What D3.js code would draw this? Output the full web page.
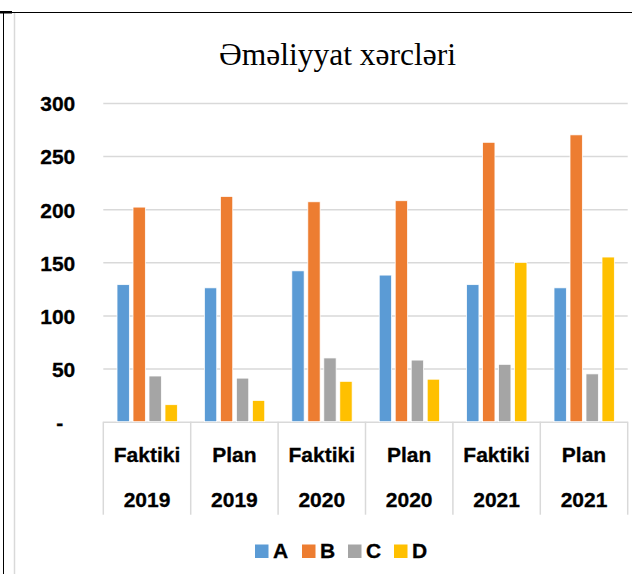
<!DOCTYPE html>
<html>
<head>
<meta charset="utf-8">
<script src="https://cdn.jsdelivr.net/npm/d3@7"></script>
<style>
  body { margin: 0; background: #fff; }
  svg { display: block; }
  .tick text { font-family: "Liberation Sans", Arial, sans-serif; font-weight: bold; font-size: 21px; fill: #000; stroke: #000; stroke-width: 0.3px; }
  .lab { font-family: "Liberation Sans", Arial, sans-serif; font-weight: bold; font-size: 21px; fill: #000; stroke: #000; stroke-width: 0.3px; }
</style>
</head>
<body>
<div id="chart"></div>
<script>
var categories = ["Faktiki 2019", "Plan 2019", "Faktiki 2020", "Plan 2020", "Faktiki 2021", "Plan 2021"]
var seriesNames = ["A", "B", "C", "D"]
var valuesA = [129, 126, 142, 138, 129, 126]
var valuesB = [202, 212, 207, 208, 263, 270]
var valuesC = [43, 41, 60, 58, 54, 45]
var valuesD = [16, 20, 38, 40, 150, 155]
var yTicks = [0, 50, 100, 150, 200, 250, 300]
var colors = ["#5B9BD5", "#ED7D31", "#A5A5A5", "#FFC000"]

var W = 632, H = 574
var margin = { top: 103, left: 103.3, right: 4.3, bottom: 152.3 }
var width = W - margin.left - margin.right,
    height = H - margin.top - margin.bottom

var svg = d3.select("#chart")
    .append("svg")
    .attr("width", W)
    .attr("height", H)

// outer frame
svg.append("line").attr("x1", 0).attr("x2", W).attr("y1", 12.5).attr("y2", 12.5)
    .attr("stroke", "#000").attr("stroke-width", 1)
svg.append("rect").attr("x", 0).attr("y", 11).attr("width", 12).attr("height", 2.5).attr("fill", "#000")
svg.append("line").attr("x1", 3.5).attr("x2", 3.5).attr("y1", 12).attr("y2", H)
    .attr("stroke", "#000").attr("stroke-width", 1)
svg.append("line").attr("x1", 14.5).attr("x2", 14.5).attr("y1", 13).attr("y2", H)
    .attr("stroke", "#d9d9d9").attr("stroke-width", 1.5)

svg.append("text")
    .attr("x", 337.5)
    .attr("y", 65)
    .attr("text-anchor", "middle")
    .attr("font-family", "'Liberation Serif', 'Times New Roman', serif")
    .attr("font-size", "31.5px")
    .attr("fill", "#000")
    .text("Əməliyyat xərcləri")

var g = svg.append("g")
    .attr("transform", "translate(" + margin.left + "," + margin.top + ")")

var data = categories.map(function (c, i) {
    return { cat: c, vals: [valuesA[i], valuesB[i], valuesC[i], valuesD[i]] }
})

var x0 = d3.scaleBand().domain(categories).range([0, width]).padding(0)
var bw = x0.bandwidth()
var x1 = d3.scaleBand().domain(seriesNames)
    .range([bw * 0.157, bw * 0.847])
    .paddingInner(0.23).paddingOuter(0)
var y = d3.scaleLinear().domain([0, 300]).range([height, 0])

// gridlines
g.append("g")
    .call(d3.axisLeft(y).tickValues(yTicks).tickSize(-width).tickFormat(""))
    .call(function (a) {
        a.select(".domain").remove()
        a.selectAll(".tick line").attr("stroke", "#d9d9d9").attr("stroke-width", 1.5)
    })

// y labels
g.append("g")
    .call(d3.axisLeft(y).tickValues(yTicks).tickSize(0).tickPadding(28)
        .tickFormat(function (d) { return d === 0 ? "-" : d }))
    .call(function (a) {
        a.select(".domain").remove()
        a.selectAll(".tick text").attr("dy", "0.37em")
        a.selectAll(".tick").filter(function (d) { return d === 0 })
            .select("text").attr("x", -40)
    })

// bars
var groups = g.selectAll(".grp")
    .data(data)
    .enter()
    .append("g")
    .attr("transform", function (d) { return "translate(" + x0(d.cat) + ",0)" })

groups.selectAll("rect")
    .data(function (d) { return d.vals.map(function (v, i) { return { key: seriesNames[i], v: v, i: i } }) })
    .enter()
    .append("rect")
    .attr("x", function (d) { return x1(d.key) })
    .attr("y", function (d) { return y(d.v) })
    .attr("width", x1.bandwidth())
    .attr("height", function (d) { return height - y(d.v) })
    .attr("fill", function (d) { return colors[d.i] })
    .attr("stroke", "#fff")
    .attr("stroke-width", 0.75)

// category axis: separators and two-line labels
var sepBottom = 93
var xa = g.append("g").attr("transform", "translate(0," + height + ")")
xa.selectAll(".sep")
    .data(categories.concat(["end"]))
    .enter()
    .append("line")
    .attr("x1", function (d, i) { return i * bw })
    .attr("x2", function (d, i) { return i * bw })
    .attr("y1", 0)
    .attr("y2", sepBottom)
    .attr("stroke", "#d9d9d9")
    .attr("stroke-width", 1.5)

xa.selectAll(".lbl")
    .data(categories)
    .enter()
    .append("text")
    .attr("class", "lab")
    .attr("x", function (d) { return x0(d) + bw / 2 })
    .attr("text-anchor", "middle")
    .each(function (d) {
        var parts = d.split(" ")
        d3.select(this).append("tspan").attr("x", x0(d) + bw / 2).attr("y", 40).text(parts[0])
        d3.select(this).append("tspan").attr("x", x0(d) + bw / 2).attr("y", 85).text(parts[1])
    })

// legend
var legendX = [255, 302, 348, 394]
var legend = svg.append("g")
legend.selectAll("rect")
    .data(seriesNames)
    .enter()
    .append("rect")
    .attr("x", function (d, i) { return legendX[i] })
    .attr("y", 544.5)
    .attr("width", 13.5)
    .attr("height", 13.5)
    .attr("fill", function (d, i) { return colors[i] })
legend.selectAll("text")
    .data(seriesNames)
    .enter()
    .append("text")
    .attr("class", "lab")
    .attr("x", function (d, i) { return legendX[i] + 18 })
    .attr("y", 558)
    .text(function (d) { return d })
</script>
</body>
</html>
